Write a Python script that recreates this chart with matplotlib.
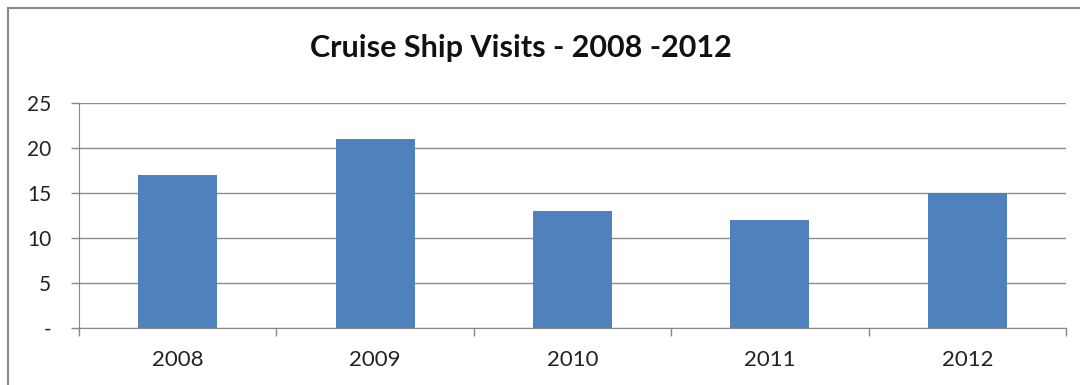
import matplotlib.pyplot as plt
from matplotlib.patches import Rectangle
import numpy as np

years = ["2008", "2009", "2010", "2011", "2012"]
visits = [17, 21, 13, 12, 15]
yticks = [0, 5, 10, 15, 20, 25]
ytick_labels = ["-", "5", "10", "15", "20", "25"]

plt.rcParams["font.family"] = ["Lato", "DejaVu Sans"]

fig = plt.figure(figsize=(10.8, 3.85), dpi=100)
ax = fig.add_axes([0.0731, 0.148, 0.914, 0.5844])

x = np.arange(len(years))
ax.bar(x, visits, width=0.4, color="#4F81BD", zorder=3)

ax.set_xlim(-0.5, len(years) - 0.5)
ax.set_ylim(0, 25)
ax.set_yticks(yticks)
ax.set_yticklabels(ytick_labels, fontsize=15, color="#222222")
ax.set_xticks(x)
ax.set_xticklabels(years, fontsize=16, color="#222222")
ax.set_xticks(np.arange(-0.5, len(years)), minor=True)
ax.tick_params(axis="x", which="major", length=0, pad=16)
ax.tick_params(axis="x", which="minor", length=6, color="#888888", width=1)
ax.tick_params(axis="y", length=6, color="#888888", width=1, pad=14)

ax.grid(axis="y", color="#8c8c8c", linewidth=1, zorder=0)
for s in ["top", "right"]:
    ax.spines[s].set_visible(False)
for s in ["left", "bottom"]:
    ax.spines[s].set_color("#888888")

fig.text(0.482, 0.875, "Cruise Ship Visits - 2008 -2012", ha="center", va="center",
         fontsize=22, fontweight="bold", color="#111111")

fig.patches.append(Rectangle((8 / 1080, -0.1), 1.2, 1.1 - 8 / 385,
                             transform=fig.transFigure, fill=False,
                             edgecolor="#8a8a8a", linewidth=1.5))

fig.savefig("out.png", dpi=100)
